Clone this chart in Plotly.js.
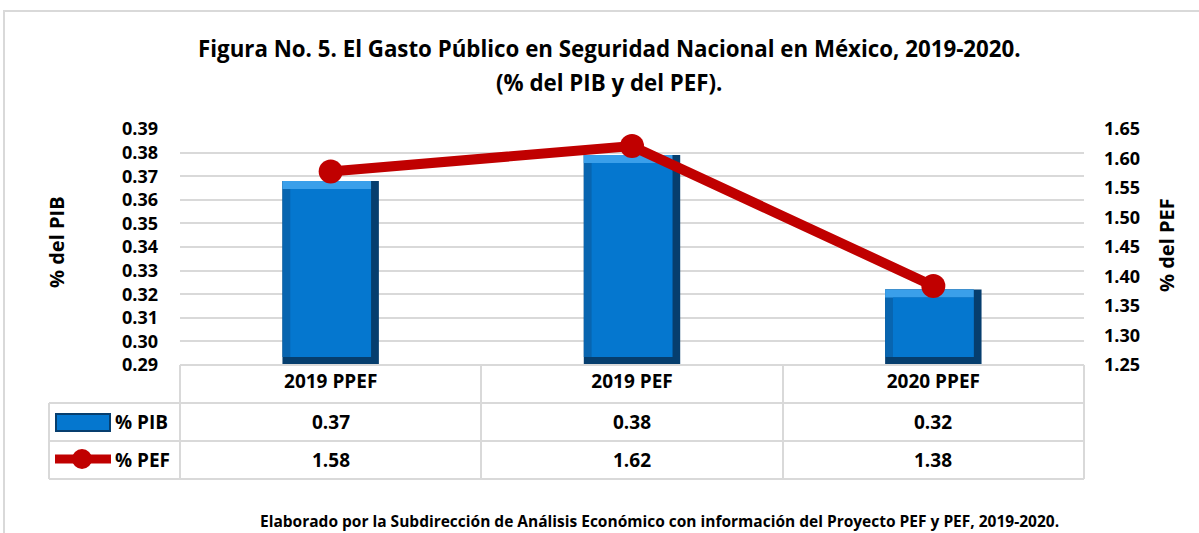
<!DOCTYPE html>
<html>
<head>
<meta charset="utf-8">
<script src="https://cdn.plot.ly/plotly-3.0.1.min.js"></script>
<style>
html,body{margin:0;padding:0;background:#fff;}
#chart{width:1199px;height:533px;}
</style>
</head>
<body>
<div id="chart"></div>
<script>
// ---- data ----
const categories = ["2019 PPEF", "2019 PEF", "2020 PPEF"];
const pibValues = [0.368, 0.379, 0.322];
const pefValues = [1.578, 1.621, 1.384];
const pibLabels = ["0.37", "0.38", "0.32"];
const pefLabels = ["1.58", "1.62", "1.38"];
const leftTicks = [0.29, 0.30, 0.31, 0.32, 0.33, 0.34, 0.35, 0.36, 0.37, 0.38, 0.39];
const rightTicks = [1.25, 1.30, 1.35, 1.40, 1.45, 1.50, 1.55, 1.60, 1.65];
const titleLine1 = "Figura No. 5. El Gasto Público en Seguridad Nacional en México, 2019-2020.";
const titleLine2 = "(% del PIB y del PEF).";
const footerText = "Elaborado por la Subdirección de Análisis Económico con información del Proyecto PEF y PEF, 2019-2020.";

// ---- style constants ----
const FONT = "'Open Sans', 'DejaVu Sans', sans-serif";
const yBase = 0.29;
const barW = 0.32;       // category units
const dx = 0.026;        // bevel width in category units
const dy = 0.0034;       // bevel height in y units

function barLayer(offset, width, bases, heights, color) {
  return {
    type: "bar", x: categories, y: heights, base: bases,
    offset: offset, width: width,
    marker: {color: color, line: {width: 0}},
    hoverinfo: "skip", showlegend: false, yaxis: "y"
  };
}

const traces = [
  // dark right/bottom face
  barLayer(-barW/2, barW, pibValues.map(() => yBase), pibValues.map(v => v - yBase), "#063E6E"),
  // left face
  barLayer(-barW/2, barW - dx, pibValues.map(() => yBase + dy), pibValues.map(v => v - yBase - dy), "#0865B0"),
  // top face
  barLayer(-barW/2, barW - dx, pibValues.map(v => v - dy), pibValues.map(() => dy), "#3A9FEA"),
  // front face
  barLayer(-barW/2 + dx, barW - 2*dx, pibValues.map(() => yBase + dy), pibValues.map(v => v - yBase - 2*dy), "#0577CF"),
  {
    type: "scatter", mode: "lines+markers", x: categories, y: pefValues, yaxis: "y2",
    line: {color: "#C00000", width: 10},
    marker: {color: "#C00000", size: 24},
    hoverinfo: "skip", showlegend: false
  }
];

// paper coordinate helpers (plot area: x 180..1084, y 129..365)
const PL = 180, PR = 1084, PT = 129, PB = 365;
const px = v => (v - PL) / (PR - PL);
const py = v => (PB - v) / (PB - PT);

const gridC = "#D9D9D9";
const shapes = [];
function hline(x0, x1, y) { shapes.push({type: "line", xref: "paper", yref: "paper", x0: px(x0), x1: px(x1), y0: py(y), y1: py(y), line: {color: gridC, width: 2}}); }
function vline(x, y0, y1) { shapes.push({type: "line", xref: "paper", yref: "paper", x0: px(x), x1: px(x), y0: py(y0), y1: py(y1), line: {color: gridC, width: 2}}); }

// outer chart frame
shapes.push({type: "rect", xref: "paper", yref: "paper", x0: px(4), x1: px(1210), y0: py(545), y1: py(11), line: {color: "#D9D9D9", width: 2}, fillcolor: "rgba(0,0,0,0)", layer: "below"});

// data table grid
hline(PL, PR, 365);
hline(49, PR, 403);
hline(49, PR, 441);
hline(49, PR, 479);
vline(49, 403, 479);
vline(PL, 365, 479);
vline(481, 365, 479);
vline(783, 365, 479);
vline(PR, 365, 479);

// legend keys
shapes.push({type: "rect", xref: "paper", yref: "paper", x0: px(56), x1: px(110), y0: py(431), y1: py(414), fillcolor: "#0577CF", line: {color: "#063E6E", width: 2}});
shapes.push({type: "line", xref: "paper", yref: "paper", x0: px(55), x1: px(111), y0: py(459), y1: py(459), line: {color: "#C00000", width: 9}});
shapes.push({type: "circle", xref: "paper", yref: "paper", x0: px(72), x1: px(92), y0: py(469), y1: py(449), fillcolor: "#C00000", line: {width: 0}});

const annotations = [];
const txtFont = {family: FONT, size: 19, color: "#000", weight: 700};
// title
annotations.push({xref: "paper", yref: "paper", x: px(609), y: py(48), text: titleLine1, showarrow: false, xanchor: "center", yanchor: "middle", font: {family: FONT, size: 22.3, color: "#000", weight: 700}});
annotations.push({xref: "paper", yref: "paper", x: px(609), y: py(82), text: titleLine2, showarrow: false, xanchor: "center", yanchor: "middle", font: {family: FONT, size: 22.3, color: "#000", weight: 700}});
// row labels
annotations.push({xref: "paper", yref: "paper", x: px(113), y: py(422), text: "% PIB", showarrow: false, xanchor: "left", yanchor: "middle", font: txtFont});
annotations.push({xref: "paper", yref: "paper", x: px(113), y: py(460), text: "% PEF", showarrow: false, xanchor: "left", yanchor: "middle", font: txtFont});
categories.forEach((c, i) => {
  annotations.push({xref: "x", yref: "paper", x: c, y: py(422), text: pibLabels[i], showarrow: false, xanchor: "center", yanchor: "middle", font: txtFont});
  annotations.push({xref: "x", yref: "paper", x: c, y: py(460), text: pefLabels[i], showarrow: false, xanchor: "center", yanchor: "middle", font: txtFont});
});
// axis titles
annotations.push({xref: "paper", yref: "paper", x: px(56), y: py(242), text: "% del PIB", textangle: -90, showarrow: false, xanchor: "center", yanchor: "middle", font: {family: FONT, size: 20, color: "#000", weight: 700}});
annotations.push({xref: "paper", yref: "paper", x: px(1166), y: py(245), text: "% del PEF", textangle: -90, showarrow: false, xanchor: "center", yanchor: "middle", font: {family: FONT, size: 20, color: "#000", weight: 700}});
// footer
annotations.push({xref: "paper", yref: "paper", x: px(659), y: py(521), text: footerText, showarrow: false, xanchor: "center", yanchor: "middle", font: {family: FONT, size: 15.5, color: "#000", weight: 700}});

const tickFont = {family: FONT, size: 18, color: "#000", weight: 700};
const layout = {
  width: 1199, height: 533,
  paper_bgcolor: "#fff", plot_bgcolor: "#fff",
  margin: {l: PL, r: 1199 - PR, t: PT, b: 533 - PB, pad: 0},
  font: {family: FONT, color: "#000"},
  barmode: "overlay",
  showlegend: false,
  xaxis: {
    type: "category", range: [-0.5, 2.5], fixedrange: true,
    showgrid: false, zeroline: false, showline: false, ticks: "",
    tickfont: {family: FONT, size: 19, color: "#000", weight: 700},
    ticklabelstandoff: 3
  },
  yaxis: {
    range: [0.29, 0.39], tickvals: leftTicks, tickformat: ".2f",
    showgrid: true, gridcolor: gridC, gridwidth: 2, zeroline: false, showline: false,
    tickfont: tickFont,
    ticklabelstandoff: 21, fixedrange: true
  },
  yaxis2: {
    overlaying: "y", side: "right",
    range: [1.25, 1.65], tickvals: rightTicks, tickformat: ".2f",
    showgrid: false, zeroline: false, showline: false,
    tickfont: tickFont,
    ticklabelstandoff: 19, fixedrange: true
  },
  shapes: shapes,
  annotations: annotations
};

Plotly.newPlot("chart", traces, layout, {displayModeBar: false, staticPlot: true});
</script>
</body>
</html>
